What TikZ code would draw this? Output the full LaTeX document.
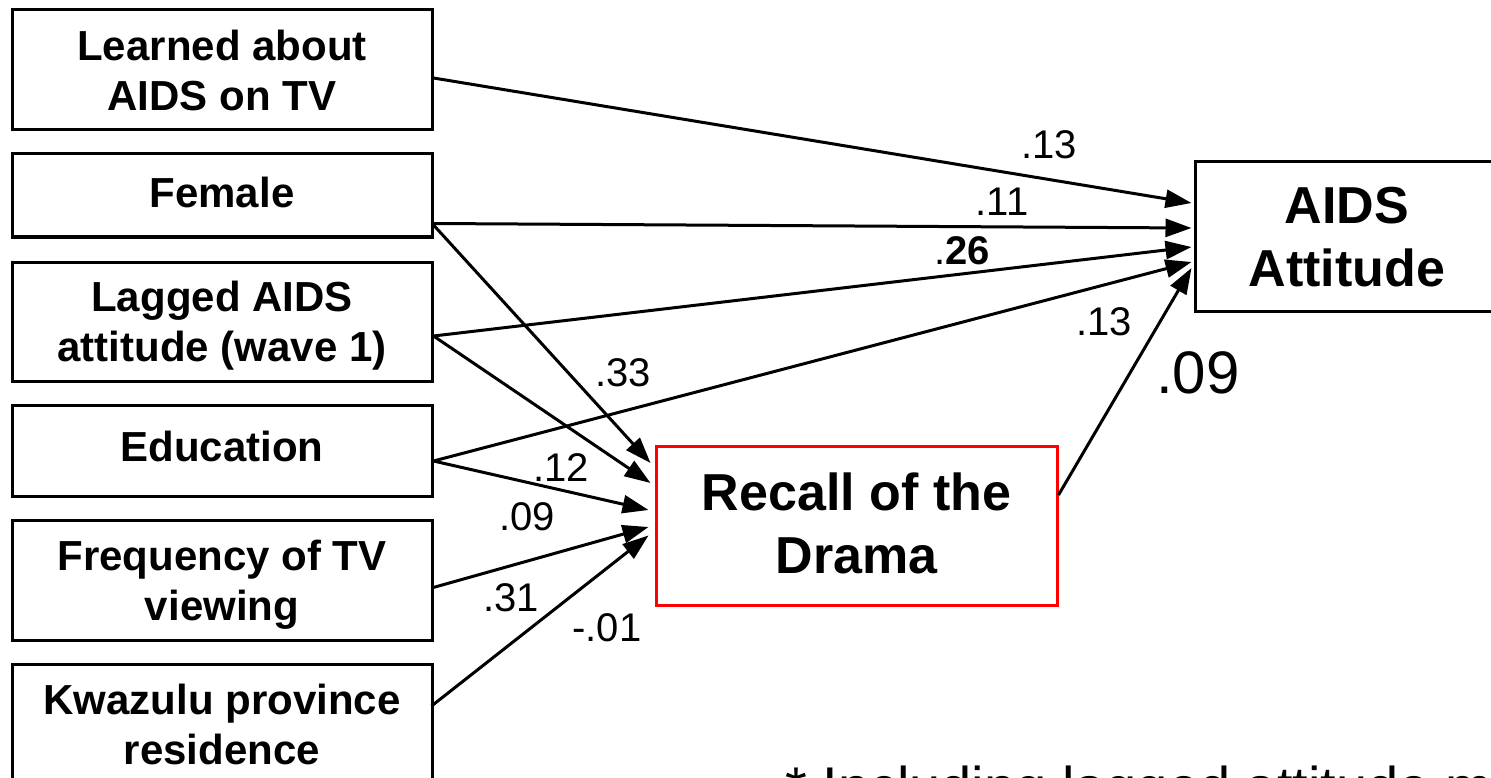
\documentclass[tikz,border=0pt]{standalone}
\usepackage{fontspec}
\setmainfont{Liberation Sans}
\usetikzlibrary{arrows.meta}
\begin{document}
\begin{tikzpicture}[x=1pt,y=-1pt,
 box/.style={draw=black,line width=3pt,minimum width=420pt,inner sep=0pt,align=center,font=\fontsize{42}{50}\selectfont\bfseries},
 bigbox/.style={line width=3pt,inner sep=0pt,align=center,font=\fontsize{52}{63}\selectfont\bfseries},
 arr/.style={line width=3pt,-{Triangle[length=26pt,width=18pt]}},
 lab/.style={inner sep=0pt,font=\fontsize{40}{48}\selectfont},
]
\useasboundingbox (0,0) rectangle (1491,778);
\clip (0,0) rectangle (1491,778);
\fill[white] (0,0) rectangle (1491,778);

\node[box,minimum height=120pt,text depth=-6pt] (b1) at (222,70) {Learned about\\AIDS on TV};
\node[box,minimum height=83pt,text depth=6pt] (b2) at (222,195.5) {Female};
\node[box,minimum height=119pt,text depth=-5pt] (b3) at (222,321.5) {Lagged AIDS\\attitude (wave 1)};
\node[box,minimum height=91pt,text depth=8pt] (b4) at (222,450.5) {Education};
\node[box,minimum height=120pt,text depth=-9pt] (b5) at (222,580) {Frequency of TV\\viewing};
\node[box,minimum height=120pt,text depth=-10pt] (b6) at (222,724) {Kwazulu province\\residence};

\node[bigbox,draw=red,minimum width=401pt,minimum height=159pt,text depth=4pt] (rec) at (856.5,525.5) {Recall of the\\Drama};
\node[bigbox,draw=black,minimum width=304pt,minimum height=149pt,text depth=-8pt] (att) at (1347,236.5) {AIDS\\Attitude};

% paths into AIDS Attitude
\draw[arr] ([yshift=-8pt]b1.east) -- ([yshift=33.5pt,xshift=-2pt]att.west);
\draw[arr] ([yshift=-28pt]b2.east) -- ([yshift=8.5pt,xshift=-2pt]att.west);
\draw[arr] ([yshift=-14.5pt]b3.east) -- ([yshift=-10.5pt,xshift=-2pt]att.west);
\draw[arr] ([yshift=-10.5pt]b4.east) -- ([yshift=-25.5pt,xshift=-2pt]att.west);
\draw[arr] ([yshift=30.5pt]rec.east) -- ([yshift=-31.5pt,xshift=-2pt]att.west);

% paths into Recall
\draw[arr] ([yshift=-29.5pt]b2.east) -- ([yshift=62.5pt,xshift=-4pt]rec.west);
\draw[arr] ([yshift=-14.5pt]b3.east) -- ([yshift=42.5pt,xshift=-4pt]rec.west);
\draw[arr] ([yshift=-10.5pt]b4.east) -- ([yshift=15.5pt,xshift=-6pt]rec.west);
\draw[arr] ([yshift=-8pt,xshift=-2pt]b5.east) -- ([yshift=-1.5pt,xshift=-6pt]rec.west);
\draw[arr] ([yshift=18pt,xshift=-2pt]b6.east) -- ([yshift=-10pt,xshift=-6pt]rec.west);

% coefficients
\node[lab] (l1) at (1049,145) {.13};
\node[lab] (l2) at (1002,202) {.11};
\node[lab] (l3) at (962,251) {.\textbf{26}};
\node[lab] (l4) at (1104,322) {.13};
\node[lab,font=\fontsize{60}{70}\selectfont] (l5) at (1198,373) {.09};
\node[lab] (l6) at (623,373) {.33};
\node[lab] (l7) at (561,468) {.12};
\node[lab] (l8) at (527,517) {.09};
\node[lab] (l9) at (511,598) {.31};
\node[lab] (l10) at (607,628) {-.01};

\node[inner sep=0pt,anchor=base west,font=\fontsize{56}{66}\selectfont] (note) at (785,806) {* Including lagged attitude mo};
\end{tikzpicture}
\end{document}
